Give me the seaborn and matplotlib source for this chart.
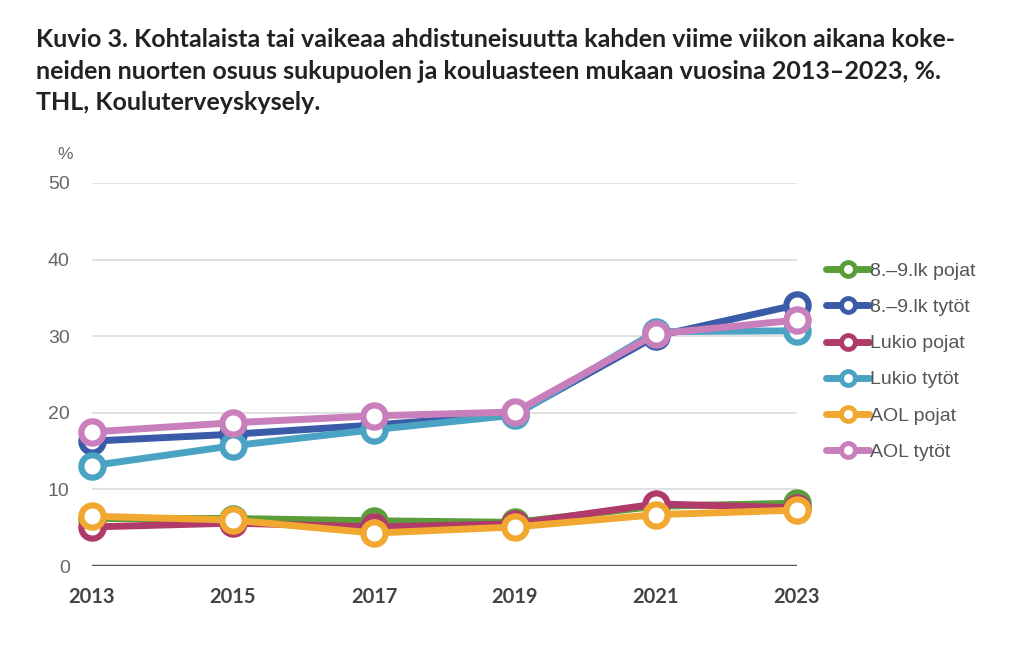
"""plot.py - ahdistuneisuus sukupuolen ja kouluasteen mukaan 2013-2023"""

import numpy as np
import pandas as pd
import matplotlib
matplotlib.use('Agg')
import matplotlib.pyplot as plt
import seaborn as sns
from matplotlib.lines import Line2D

years = [2013, 2015, 2017, 2019, 2021, 2023]
series = ['8.–9.lk pojat', '8.–9.lk tytöt', 'Lukio pojat',
          'Lukio tytöt', 'AOL pojat', 'AOL tytöt']
lk_pojat = [6.2, 6.2, 5.9, 5.7, 7.8, 8.2]
lk_tytot = [16.3, 17.2, 18.4, 19.8, 30.0, 34.1]
lukio_pojat = [5.1, 5.6, 5.1, 5.5, 8.1, 7.6]
lukio_tytot = [13.1, 15.7, 17.8, 19.7, 30.6, 30.7]
aol_pojat = [6.5, 6.0, 4.3, 5.1, 6.7, 7.3]
aol_tytot = [17.5, 18.7, 19.6, 20.1, 30.3, 32.1]
colors = ['#5a9e3a', '#3a5ca8', '#b03a6a', '#4aa3c3', '#f0a830', '#c97fbb']

title = ("Kuvio 3. Kohtalaista tai vaikeaa ahdistuneisuutta kahden viime viikon aikana koke-\n"
         "neiden nuorten osuus sukupuolen ja kouluasteen mukaan vuosina 2013–2023, %.\n"
         "THL, Kouluterveyskysely.")

values = [lk_pojat, lk_tytot, lukio_pojat, lukio_tytot, aol_pojat, aol_tytot]
df = pd.DataFrame({
    'vuosi': np.tile(years, len(series)),
    'osuus': np.concatenate(values),
    'ryhmä': np.repeat(series, len(years)),
})

sns.set_style('white')
plt.rcParams['font.family'] = ['Liberation Sans', 'DejaVu Sans']

fig = plt.figure(figsize=(10.24, 6.57), dpi=100)
ax = fig.add_axes([0.0898, 0.1385, 0.6885, 0.583])

palette = dict(zip(series, colors))
sns.lineplot(data=df, x='vuosi', y='osuus', hue='ryhmä', hue_order=series,
             palette=palette, marker='o', markersize=16, linewidth=5,
             legend=False, ax=ax, clip_on=False, zorder=3)

for line in ax.lines:
    line.set_markerfacecolor('white')
    line.set_markeredgecolor(line.get_color())
    line.set_markeredgewidth(4.5)
    line.set_solid_capstyle('round')

ax.set_xlim(2013, 2023)
ax.set_ylim(0, 50)
ax.set_xticks(years)
ax.set_yticks([0, 10, 20, 30, 40, 50])
ax.set_xlabel('')
ax.set_ylabel('')
for s in ax.spines.values():
    s.set_visible(False)
ax.grid(axis='y', color='#dcdcdc', linewidth=1.2)
ax.grid(axis='x', visible=False)
ax.axhline(0, color='#555555', linewidth=2.5, zorder=2)

ax.tick_params(axis='y', length=0, pad=16, labelsize=14, labelcolor='#666666')
ax.tick_params(axis='x', length=0, pad=15)
for lbl in ax.get_xticklabels():
    lbl.set_fontfamily('Lato')
    lbl.set_fontweight('bold')
    lbl.set_fontsize(14.5)
    lbl.set_color('#444444')

ax.text(-0.038, 1.075, '%', transform=ax.transAxes, fontsize=12.5,
        color='#666666', ha='center', va='center')

handles = [Line2D([0], [0], color=c, linewidth=5, marker='o', markersize=10,
                  markerfacecolor='white', markeredgecolor=c, markeredgewidth=3.5)
           for c in colors]
leg = fig.legend(handles, series, loc='upper left', bbox_to_anchor=(0.79, 0.627),
                 frameon=False, fontsize=14, handlelength=2.2, handletextpad=0.05,
                 labelspacing=0.95)
for t in leg.get_texts():
    t.set_color('#555555')

fig.text(0.035, 0.957, title, fontsize=18, fontweight='bold', fontfamily='Lato',
         color='#222222', ha='left', va='top', linespacing=1.45)

fig.savefig('out.png', dpi=100)
